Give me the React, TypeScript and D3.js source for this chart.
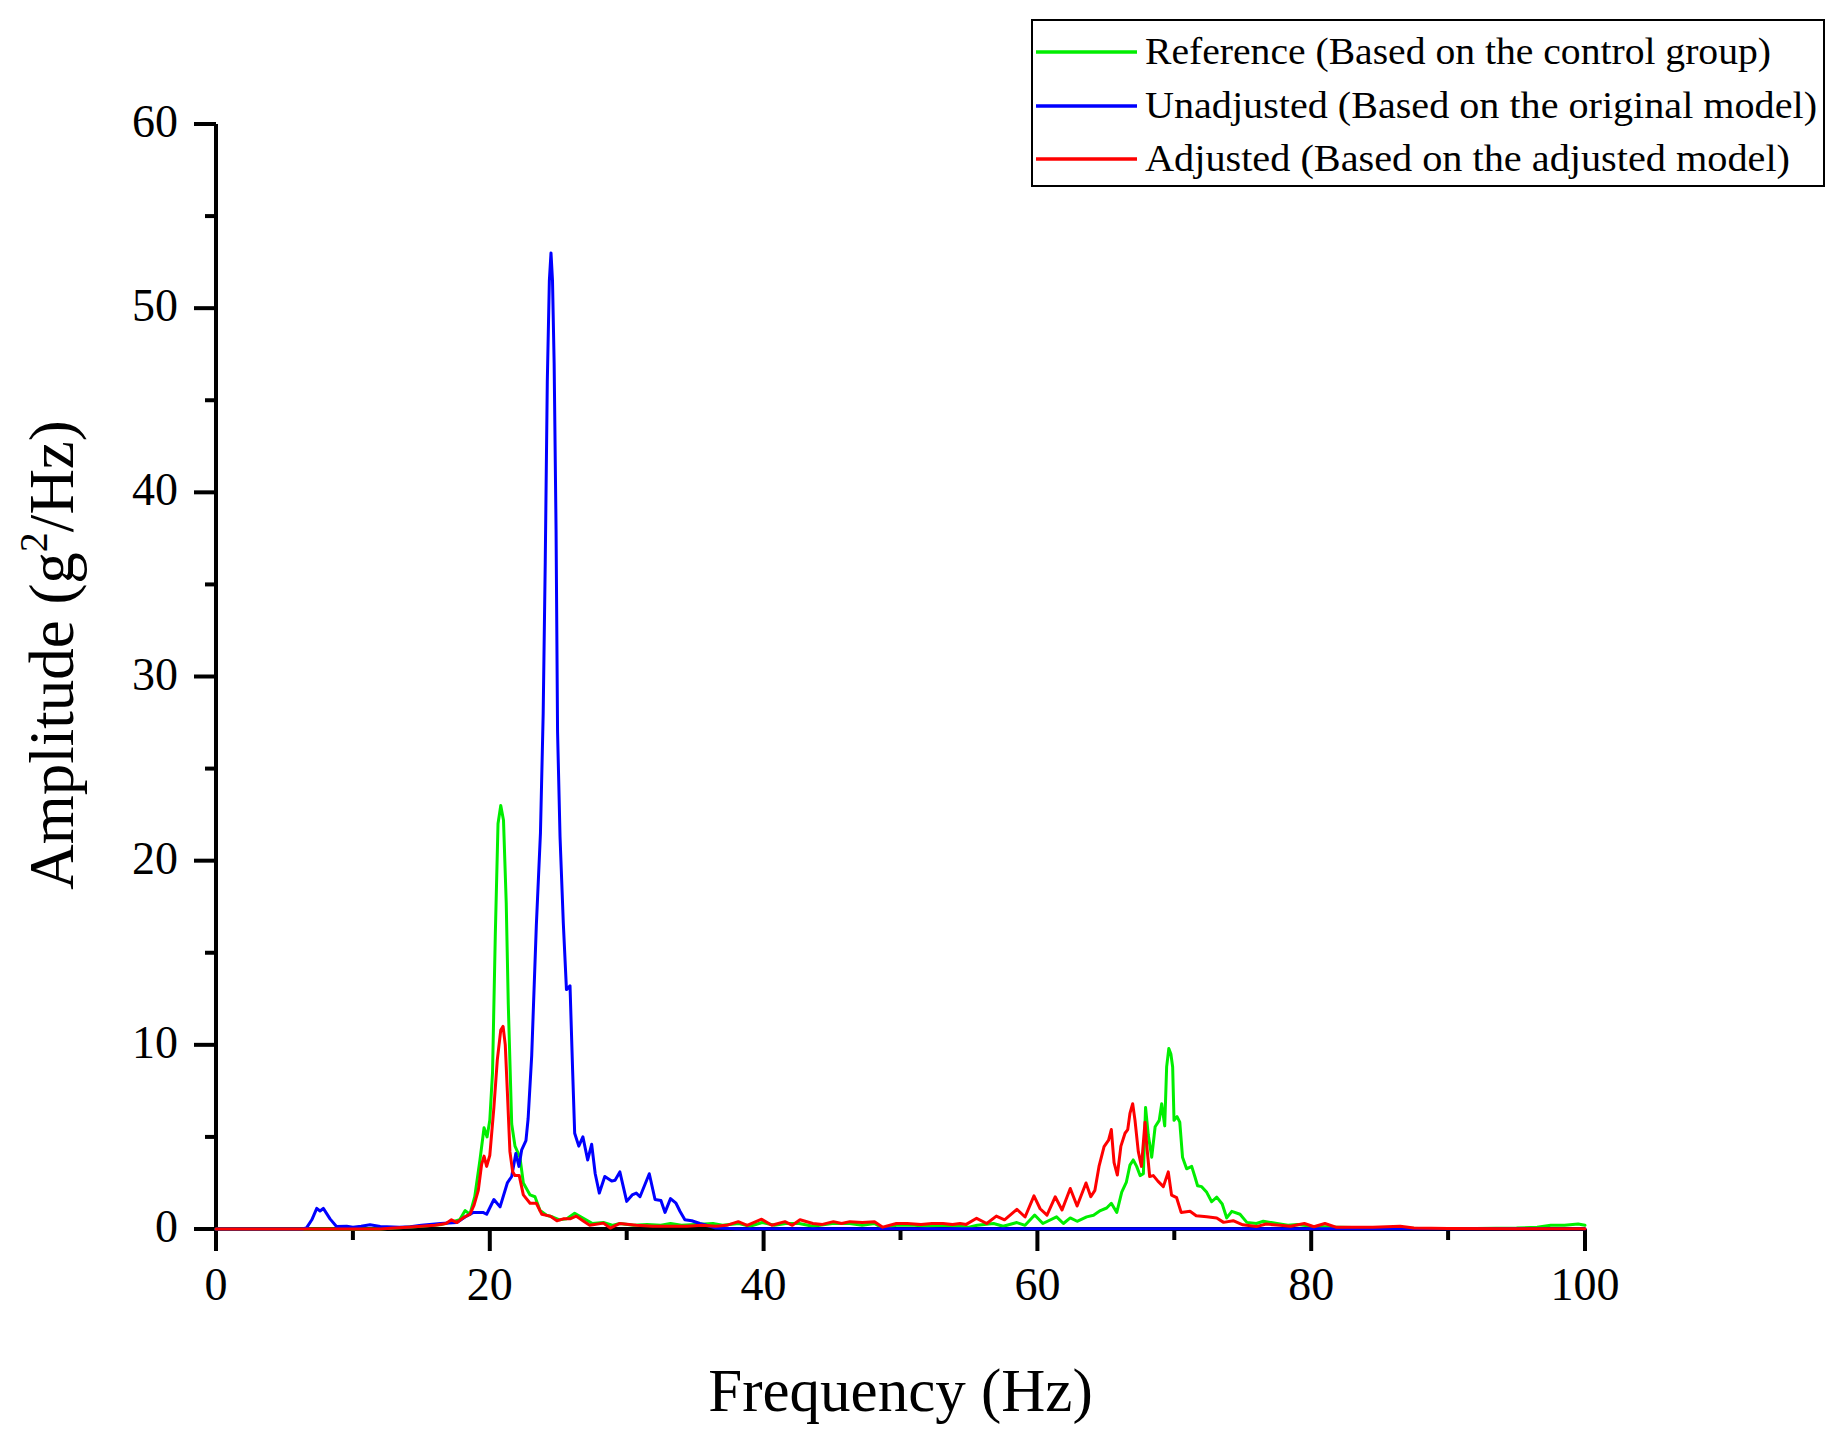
import React from "react";
import * as d3 from "d3";

// ---------- data ----------
const xMajorTicks = [0, 20, 40, 60, 80, 100];
const xMinorTicks = [10, 30, 50, 70, 90];
const yMajorTicks = [0, 10, 20, 30, 40, 50, 60];
const yMinorTicks = [5, 15, 25, 35, 45, 55];

const legendLabels = [
  "Reference (Based on the control group)",
  "Unadjusted (Based on the original model)",
  "Adjusted (Based on the adjusted model)",
];

// [frequency Hz, amplitude g^2/Hz]
const referenceSeries: [number, number][] = [
  [0, 0], [12, 0], [13, 0.05], [14, 0.1], [15, 0.15], [15.8, 0.2], [16.5, 0.25], [17.3, 0.4], [17.8, 0.5],
  [18.2, 1.0], [18.55, 0.8], [18.9, 1.75], [19.28, 3.75], [19.58, 5.5], [19.8, 5.0], [20.0, 5.9], [20.2, 8.5],
  [20.4, 15.9], [20.6, 22], [20.8, 23], [21.0, 22.2], [21.2, 17.7], [21.35, 12.2], [21.6, 5.7], [21.84, 4.5],
  [22.2, 3.9], [22.45, 2.5], [22.94, 1.85], [23.3, 1.75], [23.67, 1.0], [24.15, 0.75], [24.6, 0.65], [25.1, 0.5],
  [25.6, 0.55], [26.2, 0.85], [26.8, 0.6], [27.5, 0.3], [28.3, 0.35], [29.0, 0.2], [29.5, 0.3], [30.5, 0.2],
  [31.5, 0.25], [32.5, 0.2], [33.2, 0.3], [34.0, 0.2], [35.0, 0.25], [36.3, 0.3], [37.0, 0.2], [38.2, 0.3],
  [39.0, 0.15], [39.9, 0.35], [40.8, 0.2], [41.6, 0.3], [42.6, 0.3], [43.6, 0.15], [45.0, 0.3], [46.3, 0.3],
  [47.2, 0.2], [48.1, 0.3], [48.7, 0.05], [49.7, 0.2], [51, 0.2], [52, 0.15], [53.1, 0.2], [54.3, 0.15],
  [55, 0.1], [55.6, 0.2], [56.8, 0.3], [57.5, 0.15], [58.5, 0.35], [59.1, 0.2], [59.8, 0.76], [60.4, 0.3],
  [61.4, 0.66], [61.9, 0.3], [62.4, 0.6], [62.9, 0.42], [63.6, 0.66], [64.1, 0.75], [64.6, 1.0], [65.06, 1.14],
  [65.4, 1.4], [65.8, 0.9], [66.16, 2.0], [66.5, 2.55], [66.76, 3.47], [67.0, 3.75], [67.25, 3.4], [67.5, 2.9],
  [67.74, 3.0], [67.9, 6.6], [68.1, 5.1], [68.35, 3.9], [68.6, 5.55], [68.9, 5.9], [69.08, 6.8], [69.3, 5.6],
  [69.44, 8.8], [69.6, 9.8], [69.75, 9.5], [69.88, 8.8], [69.98, 5.9], [70.2, 6.1], [70.4, 5.8], [70.6, 3.9],
  [70.9, 3.27], [71.27, 3.4], [71.5, 2.85], [71.7, 2.35], [72.0, 2.3], [72.37, 1.99], [72.73, 1.48], [73.1, 1.73],
  [73.5, 1.36], [73.83, 0.6], [74.2, 0.96], [74.8, 0.8], [75.3, 0.36], [76.0, 0.3], [76.5, 0.42], [77.5, 0.3],
  [78.3, 0.2], [79, 0.25], [80, 0.15], [81, 0.12], [82, 0.1], [83, 0.08], [85, 0.05], [88, 0.03], [92, 0.03],
  [95, 0.05], [96.5, 0.1], [97.5, 0.2], [98.5, 0.2], [99.5, 0.27], [100, 0.2],
];

const unadjustedSeries: [number, number][] = [
  [0, 0], [6.3, 0], [6.6, 0.05], [7.0, 0.5], [7.36, 1.12], [7.6, 0.98], [7.84, 1.12], [8.33, 0.55], [8.8, 0.14],
  [9.55, 0.15], [10.0, 0.1], [10.6, 0.15], [11.25, 0.23], [12.0, 0.14], [13.4, 0.1], [14.2, 0.12], [15.0, 0.2],
  [16.4, 0.3], [17.6, 0.35], [18.3, 0.7], [18.8, 0.9], [19.5, 0.9], [19.77, 0.8], [20.3, 1.6], [20.75, 1.2],
  [21.28, 2.5], [21.6, 2.85], [21.9, 4.1], [22.13, 3.4], [22.33, 4.3], [22.64, 4.8], [22.8, 6.0], [23.06, 9.4],
  [23.4, 16.5], [23.7, 21.5], [23.9, 28.0], [24.05, 36.2], [24.2, 46.0], [24.35, 51.5], [24.47, 53], [24.58, 51.5],
  [24.7, 47.0], [24.84, 38.0], [24.95, 27.0], [25.13, 21.3], [25.37, 16.6], [25.6, 13.0], [25.86, 13.2], [26.05, 8.6],
  [26.2, 5.2], [26.5, 4.5], [26.8, 5.0], [27.15, 3.75], [27.44, 4.6], [27.7, 3.0], [28.0, 1.95], [28.4, 2.85],
  [28.9, 2.6], [29.15, 2.65], [29.5, 3.1], [30.0, 1.5], [30.4, 1.85], [30.7, 1.95], [30.97, 1.75], [31.65, 3.0],
  [32.07, 1.6], [32.5, 1.55], [32.8, 0.9], [33.2, 1.65], [33.6, 1.4], [33.9, 0.95], [34.25, 0.5], [34.75, 0.45],
  [35.35, 0.3], [35.84, 0.2], [36.5, 0.05], [38, 0.02], [100, 0.02],
];

const adjustedSeries: [number, number][] = [
  [0, 0], [12, 0], [13, 0.05], [14, 0.1], [15, 0.15], [16, 0.2], [16.8, 0.3], [17.2, 0.5], [17.6, 0.35],
  [18.1, 0.63], [18.55, 0.8], [18.85, 1.3], [19.16, 2.1], [19.4, 3.5], [19.58, 3.96], [19.77, 3.4], [20.0, 4.0],
  [20.3, 6.6], [20.55, 9.2], [20.8, 10.8], [20.97, 11.0], [21.13, 10.0], [21.28, 7.5], [21.47, 4.2], [21.67, 3.1],
  [21.84, 2.9], [22.15, 2.9], [22.45, 1.85], [22.94, 1.4], [23.4, 1.4], [23.8, 0.8], [24.4, 0.7], [24.9, 0.45],
  [25.37, 0.55], [25.86, 0.55], [26.3, 0.7], [26.8, 0.45], [27.3, 0.2], [28.3, 0.32], [28.8, 0.05], [29.5, 0.3],
  [30.7, 0.2], [31.9, 0.15], [33, 0.15], [34.4, 0.15], [35.5, 0.2], [36.5, 0.15], [37.3, 0.2], [38.15, 0.4],
  [38.8, 0.2], [39.86, 0.53], [40.6, 0.2], [41.56, 0.4], [42.1, 0.2], [42.66, 0.5], [43.6, 0.3], [44.3, 0.25],
  [45.1, 0.4], [45.7, 0.3], [46.3, 0.4], [47.2, 0.35], [48.1, 0.4], [48.7, 0.1], [49.7, 0.3], [50.5, 0.3],
  [51.5, 0.25], [52.3, 0.3], [53.1, 0.3], [53.8, 0.25], [54.35, 0.3], [54.8, 0.25], [55.56, 0.58], [56.3, 0.3],
  [57.0, 0.7], [57.6, 0.5], [58.5, 1.07], [59.1, 0.65], [59.75, 1.8], [60.2, 1.1], [60.7, 0.75], [61.3, 1.75],
  [61.8, 1.03], [62.4, 2.2], [62.9, 1.25], [63.55, 2.5], [63.9, 1.75], [64.2, 2.1], [64.5, 3.4], [64.87, 4.47],
  [65.2, 4.83], [65.4, 5.4], [65.6, 3.6], [65.84, 2.93], [66.1, 4.5], [66.4, 5.2], [66.6, 5.4], [66.76, 6.28],
  [66.96, 6.8], [67.13, 5.9], [67.37, 4.2], [67.6, 3.4], [67.86, 5.8], [68.0, 4.45], [68.2, 2.85], [68.47, 2.9],
  [68.8, 2.6], [69.2, 2.3], [69.56, 3.1], [69.8, 1.84], [70.17, 1.7], [70.5, 0.9], [71.15, 0.96], [71.6, 0.72],
  [72.37, 0.66], [73.1, 0.6], [73.6, 0.36], [74.3, 0.45], [75.0, 0.23], [76.0, 0.13], [76.7, 0.27], [77.7, 0.2],
  [78.5, 0.15], [79.5, 0.3], [80.2, 0.12], [81, 0.3], [81.8, 0.1], [83, 0.1], [84.5, 0.1], [86.5, 0.15],
  [87.5, 0.05], [90, 0.03], [95, 0.02], [100, 0.02],
];

// ---------- layout / style ----------
const W = 1839;
const H = 1436;
const FONT = "'Palatino Linotype', 'Book Antiqua', Palatino, 'Liberation Serif', serif";
const COLORS = { reference: "#00ee00", unadjusted: "#0000ff", adjusted: "#ff0000" };
const LEGEND_TEXT_WIDTHS = [626, 672, 645];

export default function App() {
  const x = d3.scaleLinear().domain([0, 100]).range([216, 1585]);
  const y = d3.scaleLinear().domain([0, 60]).range([1229, 124]);
  const line = d3
    .line<[number, number]>()
    .x((d) => x(d[0]))
    .y((d) => y(d[1]))
    .curve(d3.curveLinear);

  const series = [
    { key: "reference", data: referenceSeries, color: COLORS.reference },
    { key: "unadjusted", data: unadjustedSeries, color: COLORS.unadjusted },
    { key: "adjusted", data: adjustedSeries, color: COLORS.adjusted },
  ];
  const legendColors = [COLORS.reference, COLORS.unadjusted, COLORS.adjusted];
  const legendRowsY = [52, 106, 159];

  const x0 = x(0);
  const y0 = y(0);

  return (
    <svg
      width={W}
      height={H}
      viewBox={`0 0 ${W} ${H}`}
      style={{ position: "absolute", left: 0, top: 0, background: "#fff" }}
      fontFamily={FONT}
    >
      <rect x={0} y={0} width={W} height={H} fill="#fff" />

      {/* axes */}
      <g stroke="#000" strokeWidth={4} fill="none">
        <line x1={x0} x2={x0} y1={y(60)} y2={y0} />
        <line x1={x0} x2={x(100)} y1={y0} y2={y0} />
        {yMajorTicks.map((t) => (
          <line key={"ym" + t} x1={x0 - 22} x2={x0} y1={y(t)} y2={y(t)} />
        ))}
        {yMinorTicks.map((t) => (
          <line key={"yn" + t} x1={x0 - 11} x2={x0} y1={y(t)} y2={y(t)} />
        ))}
        {xMajorTicks.map((t) => (
          <line key={"xm" + t} x1={x(t)} x2={x(t)} y1={y0} y2={y0 + 22} />
        ))}
        {xMinorTicks.map((t) => (
          <line key={"xn" + t} x1={x(t)} x2={x(t)} y1={y0} y2={y0 + 11} />
        ))}
      </g>

      {/* tick labels */}
      <g fontSize={46} fill="#000">
        {yMajorTicks.map((t) => (
          <text key={"yl" + t} x={x0 - 38} y={y(t) + 13} textAnchor="end">
            {t}
          </text>
        ))}
        {xMajorTicks.map((t) => (
          <text key={"xl" + t} x={x(t)} y={y0 + 71} textAnchor="middle">
            {t}
          </text>
        ))}
      </g>

      {/* axis titles */}
      <text x={(x(0) + x(100)) / 2} y={1411} textAnchor="middle" fontSize={61} fill="#000">
        Frequency (Hz)
      </text>
      <text transform="translate(73,655) rotate(-90)" textAnchor="middle" fontSize={63} fill="#000">
        <tspan>Amplitude (g</tspan>
        <tspan fontSize={40} dy={-26}>2</tspan>
        <tspan dy={26}>/Hz)</tspan>
      </text>

      {/* data lines */}
      <g fill="none" strokeWidth={3} strokeLinejoin="round" strokeLinecap="round">
        {series.map((s) => (
          <path key={s.key} d={line(s.data) || ""} stroke={s.color} />
        ))}
      </g>

      {/* legend */}
      <rect x={1032} y={20} width={792} height={166} fill="#fff" stroke="#000" strokeWidth={2} />
      {legendLabels.map((lab, i) => (
        <g key={lab}>
          <line x1={1036} x2={1137} y1={legendRowsY[i]} y2={legendRowsY[i]} stroke={legendColors[i]} strokeWidth={3.5} />
          <text
            x={1145}
            y={legendRowsY[i] + 12}
            fontSize={38}
            fill="#000"
            textLength={LEGEND_TEXT_WIDTHS[i]}
            lengthAdjust="spacingAndGlyphs"
          >
            {lab}
          </text>
        </g>
      ))}
    </svg>
  );
}
